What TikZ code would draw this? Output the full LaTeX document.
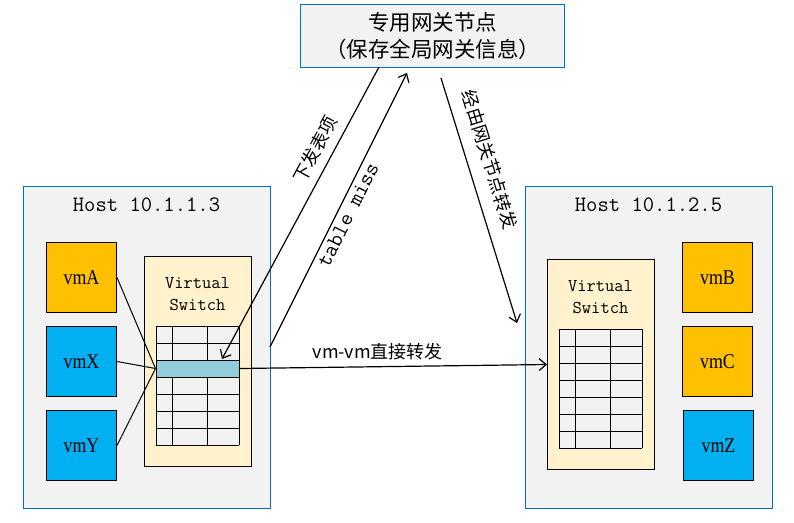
\documentclass[tikz,border=0pt]{standalone}
\usepackage{fontspec}
\setmainfont{Liberation Serif}
\newfontfamily\cjkfont{Noto Sans CJK SC}
\newfontfamily\vmfont{Liberation Serif}[FakeStretch=0.85]
\usetikzlibrary{arrows.meta,positioning}
\tikzset {>={Straight Barb[length=7pt,width=12pt]}}

\definecolor{hostgray}{HTML}{F2F2F2}
\definecolor{hostblue}{HTML}{0070C0}
\definecolor{vmorange}{HTML}{FFC000}
\definecolor{vmblue}{HTML}{00B0F0}
\definecolor{swyellow}{HTML}{FFF2CC}
\definecolor{hitblue}{HTML}{92CDDC}

\begin{document}
\begin{tikzpicture}[x=1pt,y=-1pt,line width=1pt,
  host/.style={draw=hostblue,fill=hostgray,anchor=north west,inner sep=0pt,
    minimum width=247pt,minimum height=322pt},
  hosttext/.style={font=\ttfamily\fontsize{22}{24}\selectfont},
  vmbox/.style={draw,anchor=north west,inner sep=0pt,minimum width=70pt,
    minimum height=70pt,font=\vmfont\fontsize{21}{22}\selectfont},
  vswitch/.style={draw,fill=swyellow,anchor=north west,inner sep=0pt,
    minimum width=107pt,minimum height=210pt},
  swtext/.style={align=center,font=\ttfamily\fontsize{18}{22}\selectfont},
  hitrow/.style={draw,fill=hitblue,inner sep=0pt,minimum width=83pt,minimum height=17pt},
  lbl/.style={font=\cjkfont\fontsize{18}{20}\selectfont},
  flow/.style={->,line width=1.2pt}]

\useasboundingbox (0,0) rectangle (794,522);

% Gateway node
\node [draw=hostblue,fill=hostgray,anchor=north west,inner sep=0pt,
  minimum width=264pt,minimum height=63pt,align=center,
  font=\cjkfont\fontsize{21.5}{27}\selectfont] (gw) at (300,4)
  {专用网关节点\\（保存全局网关信息）};

% Host 10.1.1.3
\node [host] (hostL) at (23,186) {};
\node [hosttext] (hostLtext) at (146.5,205) {Host 10.1.1.3};
\node [vmbox,fill=vmorange] (vmA) at (46,242) {vmA};
\node [vmbox,fill=vmblue]   (vmX) at (46,326) {vmX};
\node [vmbox,fill=vmblue]   (vmY) at (46,410) {vmY};
\node [vswitch] (swL) at (144,256) {};
\node [swtext] (swLtext) at (197.5,294) {Virtual\\Switch};

% Host 10.1.2.5
\node [host] (hostR) at (525,186) {};
\node [hosttext] (hostRtext) at (648.5,205) {Host 10.1.2.5};
\node [vswitch] (swR) at (547,259) {};
\node [swtext] (swRtext) at (600.5,297) {Virtual\\Switch};
\node [vmbox,fill=vmorange] (vmB) at (682,242) {vmB};
\node [vmbox,fill=vmorange] (vmC) at (682,326) {vmC};
\node [vmbox,fill=vmblue]   (vmZ) at (683,410) {vmZ};

% Flow tables
\foreach \x/\y in {156/326, 559/329} {
  \fill [hostgray] (\x,\y) rectangle (\x+83,\y+119);
  \foreach \r in {0,...,7}
    \draw (\x,\y+17*\r) -- (\x+83,\y+17*\r);
  \foreach \c in {0,16,51,83}
    \draw (\x+\c,\y) -- (\x+\c,\y+119);
}
\node [hitrow] (hit) at (197.5,368.5) {};

% Free ends of the gateway arrows
\coordinate (gwOut) at (379,67);
\coordinate (hitTip) at (222,359);
\coordinate (missFrom) at (270,347);
\coordinate (gwIn) at (407,73);
\coordinate (gwFrom) at (441,78);
\coordinate (swRTip) at (517,323);

% vm ports to the matched entry
\draw (vmA.east) -- (hit.west);
\draw (vmX.east) -- (hit.west);
\draw (vmY.east) -- (hit.west);

% Direct and gateway paths
\draw [flow] (hit.east) -- node[lbl,above,pos=.45,yshift=3pt] {vm-vm直接转发} (swR.west);
\draw [flow] (gwOut) -- node[lbl,sloped,above,pos=.31,yshift=5pt] {下发表项} (hitTip);
\draw [flow] (missFrom) -- node[sloped,below,pos=.5,font=\ttfamily\fontsize{22}{24}\selectfont] {table miss} (gwIn);
\draw [flow] (gwFrom) -- node[lbl,sloped,above,pos=.36,yshift=10pt] {经由网关节点转发} (swRTip);
\end{tikzpicture}
\end{document}
